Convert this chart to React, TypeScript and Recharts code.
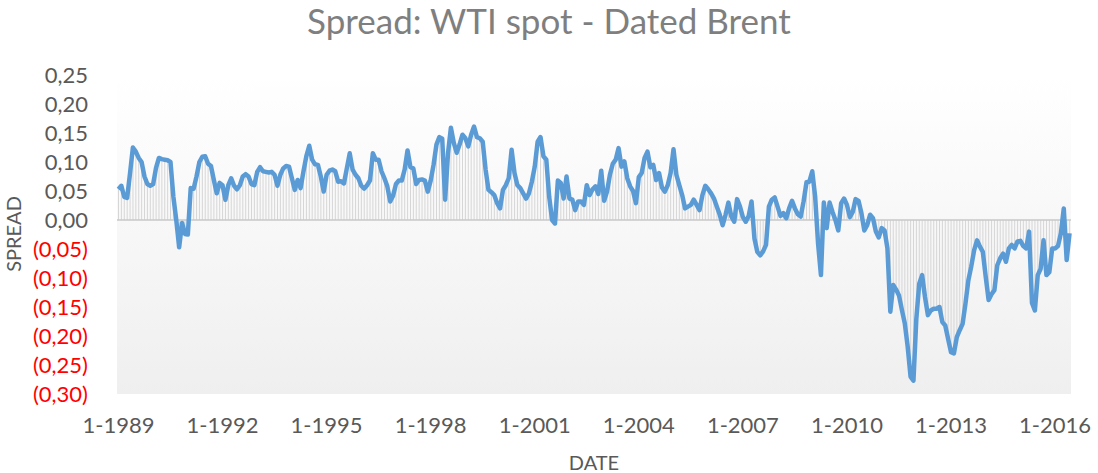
import {
  ComposedChart,
  Bar,
  Line,
  XAxis,
  YAxis,
  CartesianGrid,
  ReferenceLine,
} from "recharts";

// monthly WTI - Brent spread, split in 3-year blocks (Jan of first year onward)
const spread1989to1991 = [
  0.053, 0.059, 0.04, 0.038, 0.08, 0.125, 0.118, 0.107, 0.1, 0.075, 0.062, 0.059,
  0.062, 0.09, 0.107, 0.105, 0.104, 0.103, 0.1, 0.04, 0.0, -0.047, -0.005, -0.024,
  -0.025, 0.055, 0.054, 0.075, 0.1, 0.109, 0.11, 0.097, 0.093, 0.069, 0.046, 0.064,
];
const spread1992to1994 = [
  0.06, 0.035, 0.06, 0.072, 0.059, 0.053, 0.06, 0.075, 0.079, 0.075, 0.062, 0.06,
  0.083, 0.091, 0.084, 0.083, 0.082, 0.083, 0.078, 0.059, 0.078, 0.089, 0.093, 0.092,
  0.072, 0.052, 0.069, 0.055, 0.084, 0.11, 0.128, 0.104, 0.096, 0.095, 0.075, 0.049,
];
const spread1995to1997 = [
  0.078, 0.085, 0.087, 0.084, 0.066, 0.067, 0.063, 0.089, 0.115, 0.087, 0.078, 0.072,
  0.059, 0.054, 0.06, 0.068, 0.115, 0.104, 0.104, 0.084, 0.072, 0.058, 0.032, 0.042,
  0.062, 0.068, 0.068, 0.087, 0.12, 0.091, 0.089, 0.062, 0.069, 0.07, 0.068, 0.049,
];
const spread1998to2000 = [
  0.068, 0.095, 0.13, 0.143, 0.14, 0.035, 0.115, 0.159, 0.133, 0.116, 0.13, 0.147,
  0.141, 0.127, 0.147, 0.161, 0.143, 0.141, 0.135, 0.087, 0.052, 0.048, 0.043, 0.029,
  0.02, 0.052, 0.06, 0.072, 0.121, 0.081, 0.06, 0.055, 0.046, 0.037, 0.046, 0.066,
];
const spread2001to2003 = [
  0.092, 0.135, 0.143, 0.11, 0.104, 0.04, 0.0, -0.006, 0.068, 0.064, 0.037, 0.075,
  0.037, 0.035, 0.017, 0.032, 0.032, 0.026, 0.06, 0.043, 0.053, 0.058, 0.045, 0.085,
  0.033, 0.049, 0.078, 0.097, 0.104, 0.124, 0.092, 0.101, 0.072, 0.058, 0.05, 0.029,
];
const spread2004to2006 = [
  0.074, 0.081, 0.107, 0.118, 0.091, 0.095, 0.069, 0.081, 0.056, 0.049, 0.06, 0.081,
  0.122, 0.078, 0.06, 0.043, 0.02, 0.023, 0.026, 0.035, 0.026, 0.017, 0.043, 0.059,
  0.053, 0.046, 0.037, 0.023, 0.009, -0.009, 0.009, 0.03, 0.006, -0.003, 0.036, 0.023,
];
const spread2007to2009 = [
  0.005, -0.003, 0.007, 0.032, -0.032, -0.055, -0.061, -0.054, -0.043, 0.023, 0.035, 0.039,
  0.023, 0.007, 0.012, 0.003, 0.02, 0.033, 0.02, 0.01, 0.006, 0.032, 0.065, 0.066,
  0.084, 0.04, -0.04, -0.095, 0.03, -0.014, 0.03, 0.014, 0.0, -0.018, 0.029, 0.037,
];
const spread2010to2012 = [
  0.026, 0.005, 0.014, 0.036, 0.033, 0.012, -0.018, -0.009, 0.009, 0.003, -0.02, -0.03,
  -0.014, -0.018, -0.049, -0.158, -0.112, -0.12, -0.13, -0.155, -0.178, -0.218, -0.27, -0.277,
  -0.17, -0.11, -0.095, -0.133, -0.164, -0.156, -0.153, -0.153, -0.15, -0.176, -0.182, -0.205,
];
const spread2013to2015 = [
  -0.228, -0.23, -0.202, -0.19, -0.179, -0.144, -0.104, -0.08, -0.052, -0.035, -0.046, -0.055,
  -0.098, -0.138, -0.128, -0.121, -0.078, -0.066, -0.058, -0.072, -0.049, -0.043, -0.049, -0.037,
  -0.036, -0.045, -0.049, -0.02, -0.143, -0.156, -0.095, -0.084, -0.035, -0.095, -0.09, -0.049,
];
const spread2016 = [-0.049, -0.045, -0.023, 0.02, -0.069, -0.023];

const spreadValues = [
  ...spread1989to1991,
  ...spread1992to1994,
  ...spread1995to1997,
  ...spread1998to2000,
  ...spread2001to2003,
  ...spread2004to2006,
  ...spread2007to2009,
  ...spread2010to2012,
  ...spread2013to2015,
  ...spread2016,
];

const startYear = 1989;
const yTicks = [0.25, 0.2, 0.15, 0.1, 0.05, 0, -0.05, -0.1, -0.15, -0.2, -0.25, -0.3];

const data = spreadValues.map((v, i) => ({
  date: `${(i % 12) + 1}-${startYear + Math.floor(i / 12)}`,
  spread: v,
}));

const font = "Lato, 'Open Sans', sans-serif";

const fmt = (v: number) => {
  const s = Math.abs(v).toFixed(2).replace(".", ",");
  return v < -0.0001 ? `(${s})` : s;
};

function YTick(props: any) {
  const { x, y, payload } = props;
  const v = payload.value as number;
  return (
    <text
      x={x}
      y={y}
      dy="0.355em"
      textAnchor="end"
      fontSize={22}
      fontFamily={font}
      fill={v < -0.0001 ? "#ff0000" : "#595959"}
    >
      {fmt(v)}
    </text>
  );
}

export default function App() {
  return (
    <div style={{ position: "absolute", left: 0, top: 0, width: 1098, height: 473, background: "#fff" }}>
      <div
        style={{
          position: "absolute",
          top: -1,
          left: 0,
          width: 1098,
          textAlign: "center",
          fontFamily: font,
          fontSize: 35,
          color: "#7f7f7f",
          lineHeight: 1.2,
        }}
      >
        Spread: WTI spot - Dated Brent
      </div>
      <div
        style={{
          position: "absolute",
          left: 13,
          top: 234,
          transform: "translate(-50%, -50%) rotate(-90deg)",
          fontFamily: font,
          fontSize: 20,
          color: "#595959",
          whiteSpace: "nowrap",
        }}
      >
        SPREAD
      </div>
      <div
        style={{
          position: "absolute",
          left: 594,
          top: 462,
          transform: "translate(-50%, -50%)",
          fontFamily: font,
          fontSize: 20,
          color: "#595959",
        }}
      >
        DATE
      </div>
      <ComposedChart
        width={1098}
        height={473}
        data={data}
        margin={{ top: 75, right: 27, bottom: 0, left: 0 }}
      >
        <defs>
          <linearGradient id="plotBg" x1="0" y1="0" x2="0" y2="1">
            <stop offset="0%" stopColor="#ffffff" />
            <stop offset="100%" stopColor="#efefef" />
          </linearGradient>
        </defs>
        <CartesianGrid horizontal={false} vertical={false} fill="url(#plotBg)" fillOpacity={1} />
        <XAxis
          dataKey="date"
          interval={35}
          height={79}
          axisLine={false}
          tickLine={false}
          tickSize={0}
          tickMargin={23}
          tick={{ fontSize: 22, fontFamily: font, fill: "#595959" }}
        />
        <YAxis
          type="number"
          domain={[-0.3, 0.25]}
          ticks={yTicks}
          width={117}
          axisLine={false}
          tickLine={false}
          tickSize={0}
          tickMargin={29}
          tick={<YTick />}
          interval={0}
        />
        <ReferenceLine y={0} stroke="#c9c9c9" strokeWidth={1.5} />
        <Bar dataKey="spread" fill="#d6d6d6" barSize={1} isAnimationActive={false} />
        <Line
          type="linear"
          dataKey="spread"
          stroke="#5b9bd5"
          strokeWidth={4.5}
          dot={false}
          activeDot={false}
          strokeLinejoin="round"
          isAnimationActive={false}
        />
      </ComposedChart>
    </div>
  );
}
